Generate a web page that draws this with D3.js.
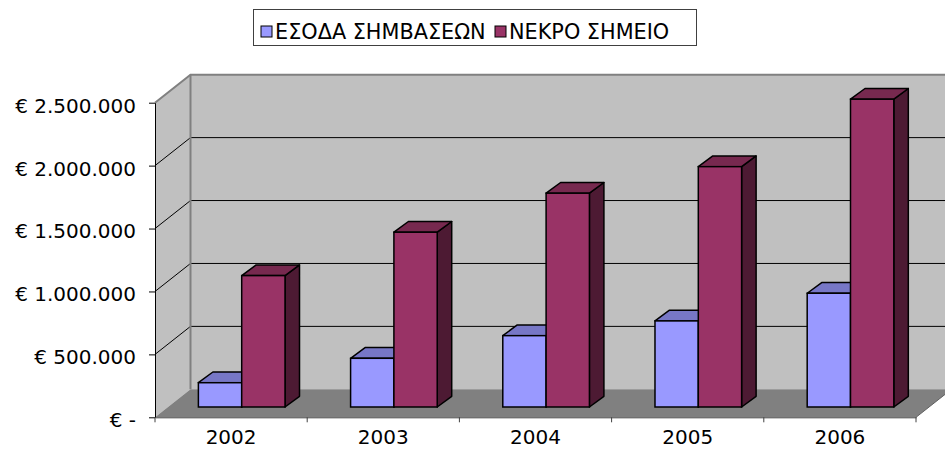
<!DOCTYPE html>
<html>
<head>
<meta charset="utf-8">
<script src="https://cdn.jsdelivr.net/npm/d3@7"></script>
<style>
  body { margin: 0; background: #fff; }
  text { font-family: "DejaVu Sans", Verdana, sans-serif; fill: #000; }
</style>
</head>
<body>
<div id="chart"></div>
<script>
// datos

const years = ["2002", "2003", "2004", "2005", "2006"]
const seriesNames = ["ΕΣΟΔΑ ΣΗΜΒΑΣΕΩΝ", "ΝΕΚΡΟ ΣΗΜΕΙΟ"]
const esoda = [193000, 387000, 567000, 684000, 904000]
const nekro = [1044000, 1389000, 1699000, 1910000, 2446000]
const yTicks = [0, 500000, 1000000, 1500000, 2000000, 2500000]

// constantes

const width = 945
const height = 449
const plot = { left: 155, right: 916, top: 102.7, bottom: 417.3 }
const depth = { dx: 35.5, dy: -28 }        // profundidad de paredes
const barFront = { dx: 10.6, dy: -10.3 }   // cara frontal de barras
const barDepth = { dx: 14.5, dy: -10.7 }   // grosor de barras

const colors = {
    front: ["#9999FF", "#993366"],
    top: ["#7777C6", "#77294F"],
    side: ["#5C5C99", "#4D1A33"]
}

const svg = d3.select("#chart").append("svg").attr("width", width).attr("height", height)
const wallGroup = svg.append("g").attr("id", "wallGroup")
const barGroup = svg.append("g").attr("id", "barGroup")
const axisGroup = svg.append("g").attr("id", "axisGroup")
const legendGroup = svg.append("g").attr("id", "legendGroup")

// escalas

const y = d3.scaleLinear().domain([0, 2500000]).range([plot.bottom, plot.top])
const x0 = d3.scaleBand().domain(years).range([plot.left, plot.right])
const x1 = d3.scaleBand().domain(seriesNames).range([0, x0.bandwidth()]).paddingInner(0).paddingOuter(0.757)

const pts = p => p.map(d => d.join(",")).join(" ")

// paredes

const bx = plot.left + depth.dx
const by = v => y(v) + depth.dy
const farRight = plot.right + depth.dx

wallGroup.append("polygon")
    .attr("points", pts([[plot.left, y(2500000)], [bx, by(2500000)], [bx, by(0)], [plot.left, y(0)]]))
    .attr("fill", "#C0C0C0")
wallGroup.append("polygon")
    .attr("points", pts([[bx, by(2500000)], [farRight, by(2500000)], [farRight, by(0)], [bx, by(0)]]))
    .attr("fill", "#C0C0C0")
wallGroup.append("polygon")
    .attr("points", pts([[plot.left, y(0)], [plot.right, y(0)], [farRight, by(0)], [bx, by(0)]]))
    .attr("fill", "#808080")

// lineas de cuadricula
const gridVals = yTicks.filter(v => v > 0 && v < 2500000)
wallGroup.selectAll(".gridBack").data(gridVals).join("line")
    .attr("x1", bx).attr("x2", farRight)
    .attr("y1", d => by(d)).attr("y2", d => by(d))
    .attr("stroke", "#000").attr("stroke-width", 1)
wallGroup.selectAll(".gridSide").data(gridVals).join("line")
    .attr("x1", plot.left).attr("x2", bx)
    .attr("y1", d => y(d)).attr("y2", d => by(d))
    .attr("stroke", "#000").attr("stroke-width", 1)

// bordes grises
wallGroup.append("polyline")
    .attr("points", pts([[plot.left, y(2500000)], [bx, by(2500000)], [farRight + 5, by(2500000)]]))
    .attr("fill", "none").attr("stroke", "#808080").attr("stroke-width", 2)
wallGroup.append("line")
    .attr("x1", bx).attr("x2", bx).attr("y1", by(2500000)).attr("y2", by(0))
    .attr("stroke", "#808080").attr("stroke-width", 2)
wallGroup.append("line")
    .attr("x1", plot.right).attr("y1", y(0)).attr("x2", farRight).attr("y2", by(0))
    .attr("stroke", "#606060").attr("stroke-width", 1)

// barras

const barData = []
years.forEach((yr, i) => {
    barData.push({ year: yr, s: 0, value: esoda[i] })
    barData.push({ year: yr, s: 1, value: nekro[i] })
})

const bars = barGroup.selectAll("g").data(barData).join("g")

const face = d => {
    const xl = x0(d.year) + x1(seriesNames[d.s]) + barFront.dx
    const xr = xl + x1.bandwidth()
    const yt = y(d.value) + barFront.dy
    const yb = y(0) + barFront.dy
    return { xl, xr, yt, yb }
}

bars.append("polygon")
    .attr("points", d => {
        const f = face(d)
        return pts([[f.xr, f.yt], [f.xr + barDepth.dx, f.yt + barDepth.dy], [f.xr + barDepth.dx, f.yb + barDepth.dy], [f.xr, f.yb]])
    })
    .attr("fill", d => colors.side[d.s])
    .attr("stroke", "#000").attr("stroke-width", 1.5).attr("stroke-linejoin", "round")
bars.append("polygon")
    .attr("points", d => {
        const f = face(d)
        return pts([[f.xl, f.yt], [f.xl + barDepth.dx, f.yt + barDepth.dy], [f.xr + barDepth.dx, f.yt + barDepth.dy], [f.xr, f.yt]])
    })
    .attr("fill", d => colors.top[d.s])
    .attr("stroke", "#000").attr("stroke-width", 1.5).attr("stroke-linejoin", "round")
bars.append("rect")
    .attr("x", d => face(d).xl)
    .attr("y", d => face(d).yt)
    .attr("width", x1.bandwidth())
    .attr("height", d => face(d).yb - face(d).yt)
    .attr("fill", d => colors.front[d.s])
    .attr("stroke", "#000").attr("stroke-width", 1.5)

// ejes

const euro = v => v === 0 ? "€ -" : "€ " + d3.format(",")(v).replace(/,/g, ".")

const yAxis = d3.axisLeft(y).tickValues(yTicks).tickFormat(euro).tickSize(6).tickSizeOuter(0).tickPadding(13)
const yAxisGroup = axisGroup.append("g").attr("transform", `translate(${plot.left},0)`).call(yAxis)
yAxisGroup.selectAll("text").style("font-size", "20px").attr("dy", "0.47em")
yAxisGroup.selectAll("line, path").attr("stroke", "#000")

const xAxis = d3.axisBottom(x0).tickSize(0).tickPadding(13).tickSizeOuter(0)
const xAxisGroup = axisGroup.append("g").attr("transform", `translate(0,${plot.bottom})`).call(xAxis)
xAxisGroup.selectAll("text").style("font-size", "20px")
xAxisGroup.select("path").attr("stroke", "#404040")

const bounds = years.map(d => x0(d)).concat([plot.right])
xAxisGroup.selectAll(".bound").data(bounds).join("line")
    .attr("class", "bound")
    .attr("x1", d => d).attr("x2", d => d).attr("y1", 0).attr("y2", 5)
    .attr("stroke", "#404040")

// leyenda

legendGroup.append("rect")
    .attr("x", 253.5).attr("y", 9.5).attr("width", 443).attr("height", 36)
    .attr("fill", "#fff").attr("stroke", "#404040")
const legendX = [261, 495]
const legendItems = legendGroup.selectAll(".item").data(seriesNames).join("g")
    .attr("transform", (d, i) => `translate(${legendX[i]},26)`)
legendItems.append("rect")
    .attr("width", 11).attr("height", 11)
    .attr("fill", (d, i) => colors.front[i]).attr("stroke", "#000")
legendItems.append("text")
    .attr("x", 14).attr("y", 12.5)
    .style("font-size", "20.8px")
    .text(d => d)
</script>
</body>
</html>
